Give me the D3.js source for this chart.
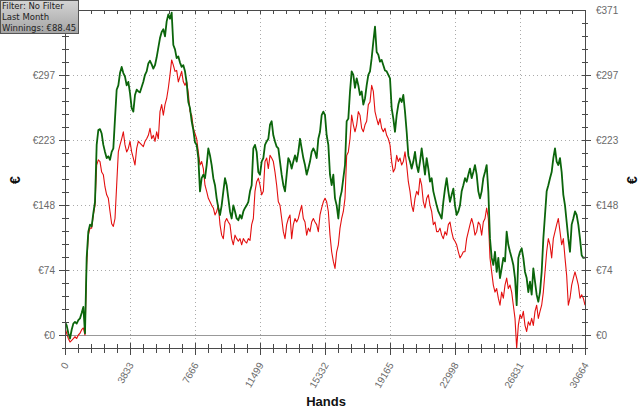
<!DOCTYPE html>
<html><head><meta charset="utf-8">
<script src="https://cdn.jsdelivr.net/npm/d3@7"></script>
<style>
html,body{margin:0;padding:0;background:#fff;}
svg{display:block;}
</style></head>
<body>
<svg id="chart" width="640" height="409"></svg>
<script>
// ---- data ----
const totalHands = 30664;
const xTicks = [0, 3833, 7666, 11499, 15332, 19165, 22998, 26831, 30664];
const xTickLabels = ["0","3833","7666","11499","15332","19165","22998","26831","30664"];
const yTicks = [0, 74.2, 148.4, 222.6, 296.8, 371];
const yTickLabels = ["€0","€74","€148","€223","€297","€371"];
const legendLines = ["Filter: No Filter", "Last Month", "Winnings: €88.45"];
const xTitle = "Hands";
const yTitle = "€";

// cumulative winnings (green), sampled evenly over the hands
const winnings = [
15,11,2,-4,6,13,15,13,17,19,
25,32,2,88,118,126,124,139,152,217,
234,235,230,217,209,202,204,200,209,213,
247,280,285,299,306,299,295,285,289,276,
259,255,274,280,278,277,283,289,297,301,
310,313,309,304,308,317,328,339,346,349,
341,358,366,361,368,331,326,316,318,311,
306,308,301,288,266,259,244,234,220,
217,202,164,179,183,179,194,213,205,194,
179,171,156,145,137,148,164,179,171,156,
141,133,148,141,133,131,137,133,141,145,
148,152,164,171,213,217,209,186,183,198,
202,217,221,224,240,244,228,221,215,213,
198,183,171,164,183,202,198,190,198,205,
198,209,224,213,202,194,183,190,198,209,
213,209,202,224,232,251,255,251,
228,217,183,171,183,156,148,133,156,164,
179,194,244,247,278,301,297,282,293,285,
274,278,263,270,285,297,301,316,335,352,
323,320,312,314,308,302,301,297,293,259,
247,232,251,263,270,266,274,255,232,205,
198,190,198,209,194,186,198,213,198,183,
202,190,175,179,164,156,148,141,137,133,
152,167,179,164,152,160,167,148,
137,141,148,164,171,179,175,183,190,179,
186,194,183,164,156,164,179,186,194,164,
110,88,80,95,72,88,65,76,88,84,
118,103,95,88,80,65,34,88,95,99,
88,72,65,49,61,46,76,61,46,38,
49,72,110,137,164,171,179,186,202,213,
198,194,202,186,160,148,129,110,95,126,
133,141,137,126,110,91,88,88.45
];

// second series (red)
const showdown = [
8,2,-4,-8,-6,-4,-2,-4,0,2,
6,8,0,80,114,122,122,137,148,194,
200,198,186,183,169,160,156,141,127,124,
133,171,209,217,224,232,217,209,213,221,
209,202,194,213,221,219,217,215,221,224,
228,236,224,228,221,232,224,255,263,251,
263,270,282,297,314,308,301,302,289,295,
301,289,285,289,276,255,251,236,230,
224,209,194,198,190,171,164,156,152,148,
145,137,141,148,126,114,110,129,133,129,
126,110,103,114,110,107,110,103,110,107,
105,110,108,126,133,164,175,179,171,160,
164,198,202,190,205,202,198,186,171,152,
148,133,118,110,126,133,137,110,126,133,
129,133,141,148,133,129,114,122,118,129,
133,129,126,118,137,145,152,156,
152,141,114,95,84,76,95,103,122,133,
141,156,205,209,224,251,240,232,240,255,
251,236,232,240,244,263,266,285,278,255,
247,240,247,236,232,236,228,224,217,198,
186,190,205,198,202,194,198,209,194,175,
164,148,141,156,164,160,179,171,152,145,
156,160,148,141,126,129,118,118,122,114,
110,118,114,126,129,118,110,107,
103,95,88,91,95,95,110,118,126,133,
126,114,118,129,126,114,129,133,145,133,
88,72,57,49,53,42,34,49,42,57,
65,53,57,49,34,19,-15,11,23,19,
27,11,4,15,11,19,11,27,34,19,
27,34,49,72,95,110,103,88,110,118,
126,133,118,103,110,88,68,34,42,57,
65,72,65,57,42,46,42,34
];

// ---- chart ----
const svg = d3.select("#chart");
const L = 65, R = 585, T = 10, B = 348;
const yMinorStep = 371 / 25;
const x = d3.scaleLinear().domain([0, totalHands]).range([L, R]);
const y = d3.scaleLinear().domain([-yMinorStep, 371]).range([B, T]);
const axisColor = "#4a4a4a";
const labelColor = "#6a6a6a";

// defs
const defs = svg.append("defs");
const grad = defs.append("linearGradient").attr("id","lg").attr("x1",0).attr("y1",0).attr("x2",0).attr("y2",1);
grad.append("stop").attr("offset","0%").attr("stop-color","#d4d4d4");
grad.append("stop").attr("offset","100%").attr("stop-color","#a4a4a4");
defs.append("clipPath").attr("id","clip").append("rect")
  .attr("x", L).attr("y", T).attr("width", R - L).attr("height", B - T);

// grid
const grid = svg.append("g");
grid.selectAll(".gx").data(xTicks.slice(1, -1)).join("line")
  .attr("x1", d => Math.round(x(d)) + 0.5).attr("x2", d => Math.round(x(d)) + 0.5)
  .attr("y1", T).attr("y2", B)
  .attr("stroke", "#aaa").attr("stroke-width", 1).attr("stroke-dasharray", "1,3");
grid.selectAll(".gy").data(yTicks.slice(1, -1)).join("line")
  .attr("y1", d => Math.round(y(d)) + 0.5).attr("y2", d => Math.round(y(d)) + 0.5)
  .attr("x1", L).attr("x2", R)
  .attr("stroke", "#aaa").attr("stroke-width", 1).attr("stroke-dasharray", "1,3");
// zero line
svg.append("line").attr("x1", L).attr("x2", R)
  .attr("y1", Math.round(y(0)) + 0.5).attr("y2", Math.round(y(0)) + 0.5)
  .attr("stroke", "#999").attr("stroke-width", 1);

// series
const n = winnings.length;
const hx = i => x(i * totalHands / (n - 1));
const line = d3.line().x((d, i) => hx(i)).y(d => y(d));
const plot = svg.append("g").attr("clip-path", "url(#clip)");
plot.append("path").datum(showdown).attr("d", line)
  .attr("fill", "none").attr("stroke", "#e31010").attr("stroke-width", 1.1).attr("stroke-linejoin","round");
plot.append("path").datum(winnings).attr("d", line)
  .attr("fill", "none").attr("stroke", "#0b650b").attr("stroke-width", 1.8).attr("stroke-linejoin","round");

// frame
const frame = svg.append("g").attr("stroke", axisColor).attr("stroke-width", 1);
frame.append("line").attr("x1", L + 0.5).attr("x2", L + 0.5).attr("y1", T).attr("y2", B + 1);
frame.append("line").attr("x1", R + 0.5).attr("x2", R + 0.5).attr("y1", T).attr("y2", B + 1);
frame.append("line").attr("x1", L).attr("x2", R + 1).attr("y1", T + 0.5).attr("y2", T + 0.5);
frame.append("line").attr("x1", L).attr("x2", R + 1).attr("y1", B + 0.5).attr("y2", B + 0.5);

// minor / major tick values
const yMinor = d3.range(0, 26).map(k => k * yMinorStep - yMinorStep);
const xMinor = d3.range(0, 41).map(k => k * totalHands / 40);
const isMajorX = v => xTicks.some(t => Math.abs(t - v) < 1);
const isMajorY = v => yTicks.some(t => Math.abs(t - v) < 0.5);

// y ticks, left and right
yMinor.forEach(v => {
  const yy = Math.round(y(v)) + 0.5, maj = isMajorY(v);
  frame.append("line").attr("x1", L - (maj ? 6 : 3)).attr("x2", L + 4).attr("y1", yy).attr("y2", yy);
  frame.append("line").attr("x1", R - 3).attr("x2", R + (maj ? 6 : 3)).attr("y1", yy).attr("y2", yy);
});
// x ticks, bottom and top
xMinor.forEach(v => {
  const xx = Math.round(x(v)) + 0.5, maj = isMajorX(v);
  frame.append("line").attr("x1", xx).attr("x2", xx).attr("y1", B - (maj ? 5 : 4)).attr("y2", B + (maj ? 7 : 5));
  frame.append("line").attr("x1", xx).attr("x2", xx).attr("y1", T).attr("y2", T + 4);
});

// y labels
const font = "'Liberation Sans', Arial, sans-serif";
svg.append("g").selectAll("text").data(yTicks).join("text")
  .attr("x", 55).attr("y", d => y(d) + 3.5).attr("text-anchor", "end")
  .attr("font-family", font).attr("font-size", 10).attr("fill", labelColor)
  .text((d, i) => yTickLabels[i]);
svg.append("g").selectAll("text").data(yTicks).join("text")
  .attr("x", 596).attr("y", d => y(d) + 3.5).attr("text-anchor", "start")
  .attr("font-family", font).attr("font-size", 10).attr("fill", labelColor)
  .text((d, i) => yTickLabels[i]);

// x labels rotated
svg.append("g").selectAll("text").data(xTicks).join("text")
  .attr("transform", d => `translate(${x(d) + 4},${365}) rotate(-60)`)
  .attr("text-anchor", "end")
  .attr("font-family", font).attr("font-size", 10).attr("fill", labelColor)
  .text((d, i) => xTickLabels[i]);

// axis titles
svg.append("text").attr("x", 326).attr("y", 406).attr("text-anchor", "middle")
  .attr("font-family", font).attr("font-weight", "bold").attr("font-size", 13).attr("fill", "#111")
  .text(xTitle);
svg.append("text").attr("transform", "translate(20,180) rotate(-90)").attr("text-anchor", "middle")
  .attr("font-family", font).attr("font-weight", "bold").attr("font-size", 14).attr("fill", "#111")
  .text(yTitle);
svg.append("text").attr("transform", "translate(637,180) rotate(-90)").attr("text-anchor", "middle")
  .attr("font-family", font).attr("font-weight", "bold").attr("font-size", 14).attr("fill", "#111")
  .text(yTitle);

// legend box
const lg = svg.append("g");
lg.append("rect").attr("x", 0.5).attr("y", 0.5).attr("width", 78).attr("height", 33)
  .attr("fill", "url(#lg)").attr("stroke", "#555");
lg.selectAll("text").data(legendLines).join("text")
  .attr("x", 2).attr("y", (d, i) => 9 + i * 10.8)
  .attr("font-family", "'DejaVu Sans', Verdana, sans-serif").attr("font-size", 8.5).attr("fill", "#222")
  .text(d => d);
</script>
</body></html>
